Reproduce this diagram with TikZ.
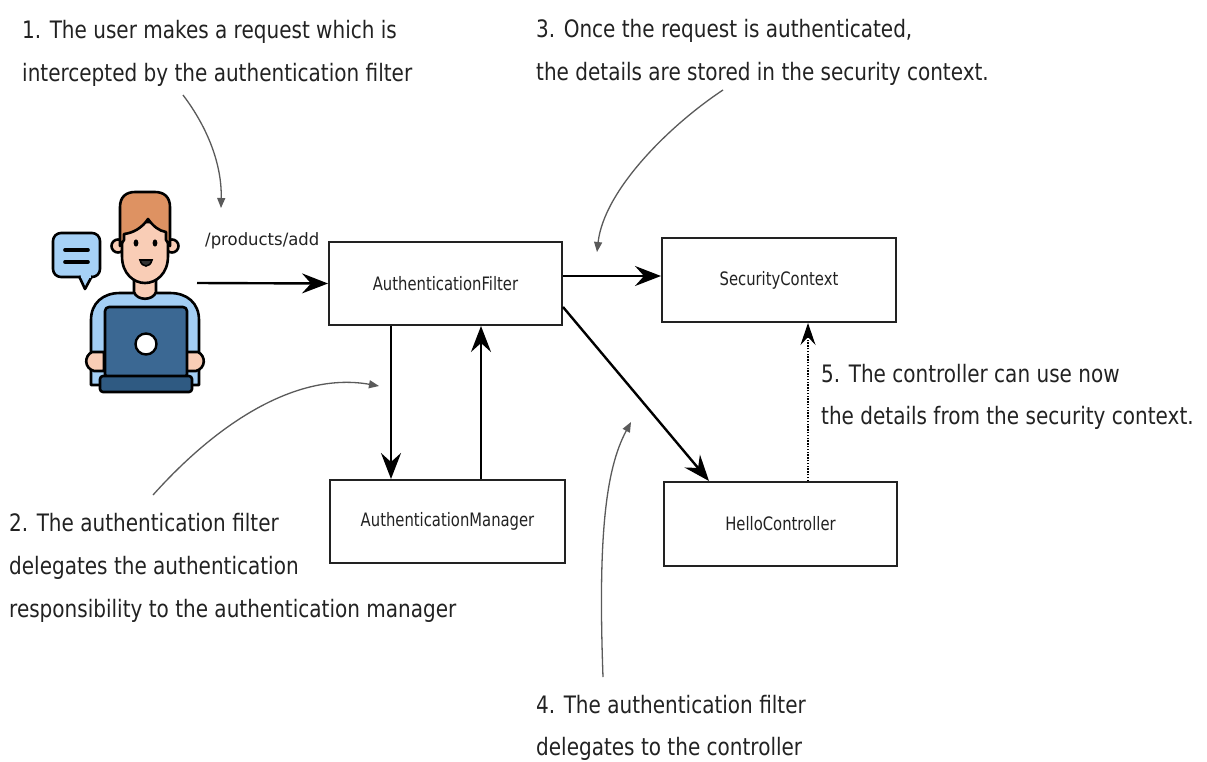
\documentclass[tikz,border=0pt]{standalone}
\usepackage{fontspec}
\setmainfont{DejaVu Sans}[FakeStretch=0.834]
\newfontfamily\boxfont{DejaVu Sans}[FakeStretch=0.8]
\newfontfamily\pathfont{DejaVu Sans}[FakeStretch=0.97]
\usetikzlibrary{arrows.meta,calc}

\definecolor{hair}{HTML}{DE9262}
\definecolor{skin}{HTML}{F9CDB6}
\definecolor{shirt}{HTML}{A3CEF4}
\definecolor{laptop}{HTML}{3B6893}
\definecolor{laptopbase}{HTML}{2F5A82}
\definecolor{bubble}{HTML}{A6D1F6}
\definecolor{ink}{HTML}{222222}
\definecolor{note}{HTML}{5A5A5A}

\tikzset{
  box/.style={draw=ink, line width=2pt, minimum width=233pt, minimum height=83pt,
    inner sep=0pt, font=\boxfont\fontsize{18.5}{21}\selectfont, text=ink},
  flow/.style={draw=black, line width=2.4pt,
    -{Stealth[length=26pt,width=20pt,inset=9pt]}},
  dotflow/.style={draw=black, line width=1.1pt, dash pattern=on 1.4pt off 1.4pt,
    -{Stealth[length=22pt,width=15pt,inset=8pt]}},
  callout/.style={draw=note, line width=1.3pt,
    -{Triangle[length=10pt,width=8pt]}},
  caption/.style={anchor=base west, inner sep=0pt, text=ink,
    font=\fontsize{24}{28}\selectfont},
  outline/.style={draw=black, line width=2.6pt, line join=round},
}

\begin{document}
\begin{tikzpicture}[x=1pt,y=-1pt]
\useasboundingbox (0,0) rectangle (1207,761);
\fill[white] (0,0) rectangle (1207,761);

% ---------- user icon ----------
% speech bubble
\filldraw[outline, fill=bubble, rounded corners=8pt] (53,233) rectangle (100,277);
\filldraw[outline, fill=bubble] (79,276) -- (85,289) -- (92,276);
\fill[bubble] (80.5,273) rectangle (90.5,278);
\draw[line width=3.6pt, line cap=round] (65,250) -- (88,250) (65,262) -- (88,262);
% shirt
\filldraw[outline, fill=shirt] (91,385) -- (91,320)
  .. controls (91,303) and (103,293) .. (120,293) -- (170,293)
  .. controls (187,293) and (199,303) .. (199,320) -- (199,385) -- cycle;
% neck
\filldraw[outline, fill=skin] (134,270) -- (134,292)
  .. controls (137,301) and (153,301) .. (156,292) -- (156,270) -- cycle;
% ears
\filldraw[outline, fill=skin] (118,246) circle (6.5pt);
\filldraw[outline, fill=skin] (172,246) circle (6.5pt);
% face
\filldraw[outline, fill=skin] (122,222) -- (122,256)
  .. controls (122,274) and (134,283) .. (145,283)
  .. controls (156,283) and (168,274) .. (168,256) -- (168,222) -- cycle;
% hair
\filldraw[outline, fill=hair] (120,246) -- (120,207)
  .. controls (120,197) and (126,192) .. (135,192) -- (155,192)
  .. controls (164,192) and (170,197) .. (170,207) -- (170,246)
  -- (166,240) -- (166,232)
  .. controls (159,231) and (153,226) .. (148,219)
  .. controls (142,228) and (133,233) .. (124,234) -- (124,240) -- cycle;
% eyes and smile
\fill (136,243) ellipse (2.4pt and 3.6pt);
\fill (155,243) ellipse (2.4pt and 3.6pt);
\filldraw[line width=1.6pt, fill=black!80] (140,260) .. controls (142,268) and (150,268) .. (152,260) -- cycle;
% hands
\filldraw[outline, fill=skin] (92,352) .. controls (84,356) and (84,368) .. (94,371) -- (104,371) -- (104,352) -- cycle;
\filldraw[outline, fill=skin] (198,352) .. controls (206,356) and (206,368) .. (196,371) -- (186,371) -- (186,352) -- cycle;
% laptop
\filldraw[outline, fill=laptop, rounded corners=4pt] (105,307) rectangle (187,378);
\filldraw[outline, fill=laptopbase, rounded corners=3pt] (100,376) rectangle (192,392);
\filldraw[line width=2.4pt, fill=white] (146,344) circle (10.5pt);

\coordinate (userout) at (197,283);

% ---------- components ----------
\node[box] (filter) at (445.5,283.5) {AuthenticationFilter};
\node[box, minimum width=234pt, minimum height=84pt] (sc) at (779,280) {SecurityContext};
\node[box, minimum width=235pt] (mgr) at (447.5,521.5) {AuthenticationManager};
\node[box, minimum height=84pt] (hc) at (780.5,524) {HelloController};

\node[anchor=base west, inner sep=0pt, text=ink, font=\pathfont\fontsize{17}{20}\selectfont]
  (path) at (205,245) {/products/add};

% ---------- flows ----------
\draw[flow] (userout) -- (filter.west);
\draw[flow] (filter.east |- 0,276) -- (sc.west |- 0,276);
\draw[flow] (filter.south -| 391,0) -- (mgr.north -| 391,0);
\draw[flow] (mgr.north -| 481,0) -- (filter.south -| 481,0);
\draw[flow] (filter.east |- 0,307) -- (hc.north -| 709,0);
\draw[dotflow] (hc.north -| 808,0) -- (sc.south -| 808,0);

% ---------- captions ----------
\node[caption] (c1a) at (22,38) {1. The user makes a request which is};
\node[caption] (c1b) at (22,81) {intercepted by the authentication filter};

\node[caption] (c3a) at (536,37) {3. Once the request is authenticated,};
\node[caption] (c3b) at (536,80) {the details are stored in the security context.};

\node[caption] (c5a) at (821,382) {5. The controller can use now};
\node[caption] (c5b) at (821,424) {the details from the security context.};

\node[caption] (c2a) at (9,531) {2. The authentication filter};
\node[caption] (c2b) at (9,574) {delegates the authentication};
\node[caption] (c2c) at (9,617) {responsibility to the authentication manager};

\node[caption] (c4a) at (536,713) {4. The authentication filter};
\node[caption] (c4b) at (536,755) {delegates to the controller};

% ---------- callouts ----------
\coordinate (k1s) at (183,95);   \coordinate (k1e) at (221,208);
\coordinate (k3s) at (723,90);   \coordinate (k3e) at (597,252);
\coordinate (k2s) at (153,495);  \coordinate (k2e) at (379,386);
\coordinate (k4s) at (603,677);  \coordinate (k4e) at (631,422);
\draw[callout] (k1s) .. controls (208,128) and (222,165) .. (k1e);
\draw[callout] (k3s) .. controls (670,125) and (604,190) .. (k3e);
\draw[callout] (k2s) .. controls (222,418) and (300,372) .. (k2e);
\draw[callout] (k4s) .. controls (598,540) and (605,470) .. (k4e);
\end{tikzpicture}
\end{document}
